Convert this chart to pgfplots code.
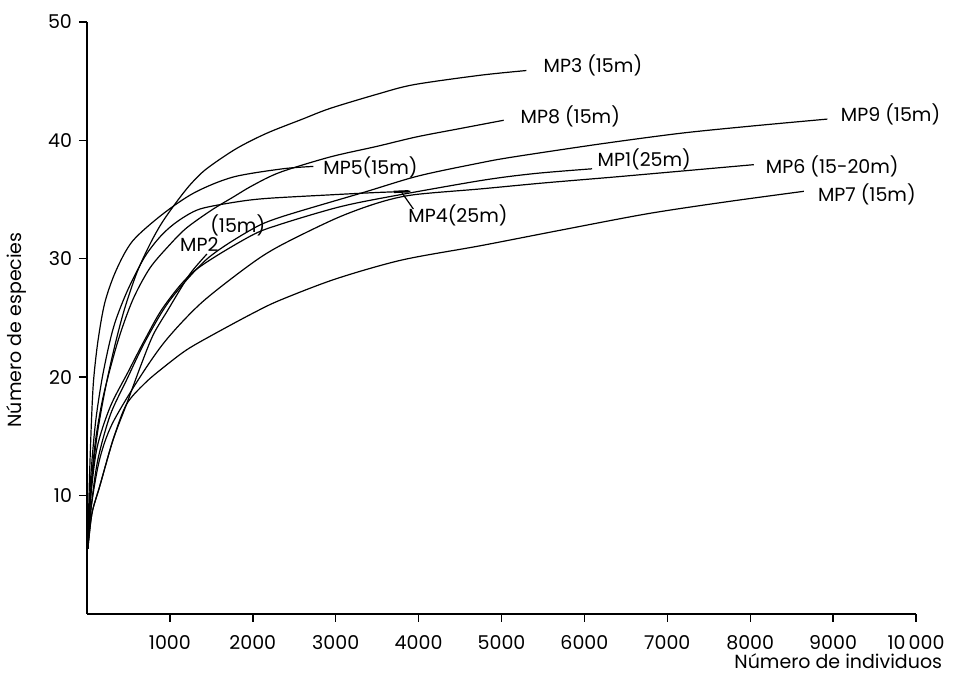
\documentclass[border=0pt]{standalone}
\usepackage{pgfplots}
\pgfplotsset{compat=1.18}
\usepackage{fontspec}
\setmainfont{Poppins}
\begin{document}
\begin{tikzpicture}
\useasboundingbox (-43.5pt,-32pt) rectangle (435pt,307pt);
\begin{axis}[
  at={(0,0)}, anchor=south west,
  scale only axis, width=414.5pt, height=296pt,
  xmin=0, xmax=10000, ymin=0, ymax=50,
  axis x line=bottom, axis y line=left,
  axis line style={-, line width=0.7pt},
  tick align=outside, major tick length=4pt,
  tick style={line width=0.7pt, black},
  scaled x ticks=false, scaled y ticks=false,
  xtick={1000,2000,3000,4000,5000,6000,7000,8000,9000,10000},
  xticklabels={1000,2000,3000,4000,5000,6000,7000,8000,9000,10\,000},
  ytick={10,20,30,40,50},
  /pgf/number format/assume math mode=true,
  ticklabel style={font=\fontsize{9.5}{11}\selectfont},
  xticklabel style={yshift=-3pt},
  xlabel={Número de individuos},
  ylabel={Número de especies},
  label style={font=\fontsize{9.5}{11}\selectfont},
  xlabel style={at={(axis description cs:1.04,-0.08)}, anchor=east},
  ylabel style={at={(axis description cs:-0.085,0.48)}, anchor=center},
  clip=false,
  cycle list={{black,solid,mark=none}},
  every axis plot/.append style={line width=0.6pt, smooth, tension=0.5},
]
% MP3
\addplot coordinates {(10,5.5)(50,10.5)(120,15)(220,19)(330,22.5)(450,25.7)(600,28.8)(757,31.2)(900,33)(1080,34.8)(1250,36.3)(1442,37.6)(1800,39.3)(2167,40.6)(2600,41.8)(2932,42.7)(3500,43.9)(3938,44.7)(4742,45.5)(5300,45.9)};
% MP8
\addplot coordinates {(10,5.5)(40,10)(100,14.5)(200,18.5)(371,23)(550,26.5)(757,29.2)(1000,31.2)(1200,32.6)(1500,34.1)(1760,35.2)(2000,36.2)(2327,37.3)(2932,38.6)(3500,39.5)(3978,40.3)(4500,41.0)(5026,41.7)};
% MP9
\addplot coordinates {(10,5.5)(50,9)(130,13)(280,16.8)(480,19.8)(700,23)(1000,26.5)(1450,30)(1966,32.4)(2327,33.5)(3333,35.6)(4000,37)(4743,38.1)(5141,38.6)(6192,39.7)(7158,40.6)(8000,41.2)(8930,41.8)};
% MP1
\addplot coordinates {(10,5.5)(40,9.5)(120,14)(280,17.5)(500,20.5)(700,23.2)(930,26)(1300,29)(1966,31.9)(2327,32.9)(3000,34.3)(3536,35.1)(4743,36.6)(5400,37.2)(6092,37.6)};
% MP6
\addplot coordinates {(10,5.5)(50,9)(150,13)(300,16)(620,19.8)(950,23.1)(1383,26.3)(1966,29.5)(2327,31.1)(3000,33.4)(3500,34.7)(3933,35.4)(4743,35.9)(5500,36.4)(6349,36.9)(7158,37.4)(8043,37.95)};
% MP7
\addplot coordinates {(10,5.5)(60,8.5)(154,10.8)(314,14.7)(476,17.7)(700,19.5)(918,20.8)(1200,22.3)(1522,23.6)(2000,25.4)(2327,26.5)(3000,28.3)(3800,29.9)(4743,31.1)(5700,32.4)(6756,33.8)(7700,34.8)(8647,35.7)};
% MP5
\addplot coordinates {(10,5.5)(30,11.5)(55,16.5)(80,19.8)(133,23.1)(215,26.3)(350,29)(550,31.5)(918,33.8)(1300,35.6)(1760,36.9)(2360,37.6)(2730,37.8)};
% MP4
\addplot coordinates {(10,5.5)(40,11)(100,16)(180,19.8)(275,23)(356,25)(500,27.5)(700,30.2)(900,32)(1100,33.2)(1361,34.2)(1800,34.8)(2170,35.1)(2933,35.4)(3500,35.6)(3900,35.7)};
% MP2
\addplot coordinates {(10,5.5)(60,8.5)(154,10.8)(314,14.7)(476,17.7)(650,21)(800,23.6)(978,25.7)(1080,26.9)(1250,28.8)(1446,30.4)};
% leader for MP4
\draw[line width=1.2pt] (axis cs:3700,35.65) -- (axis cs:3880,35.7);
\draw[line width=0.6pt] (axis cs:3797,35.6) -- (axis cs:3937,34.2);
% labels
\begin{scope}[every node/.style={font=\fontsize{9.5}{11}\selectfont, anchor=west, inner sep=0pt}]
\node at (axis cs:5504,46.3) {MP3 (15m)};
\node at (axis cs:5226,42.0) {MP8 (15m)};
\node at (axis cs:9090,42.2) {MP9 (15m)};
\node at (axis cs:6156,38.4) {MP1(25m)};
\node at (axis cs:8185,37.8) {MP6 (15-20m)};
\node at (axis cs:8813,35.4) {MP7 (15m)};
\node at (axis cs:2847,37.7) {MP5(15m)};
\node at (axis cs:3873,33.7) {MP4(25m)};
\node at (axis cs:1120,31.2) {MP2};
\node at (axis cs:1483,32.8) {(15m)};
\end{scope}
\end{axis}
\end{tikzpicture}
\end{document}
